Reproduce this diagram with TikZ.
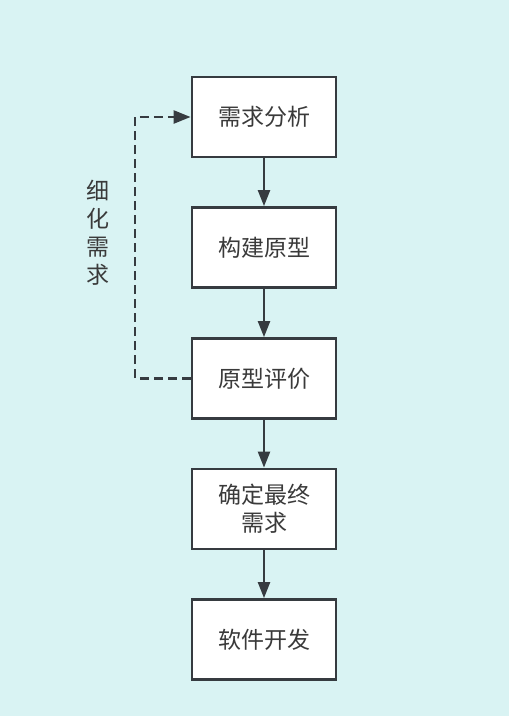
\documentclass[tikz,border=0pt]{standalone}
\usepackage{fontspec}
\setmainfont{Noto Sans CJK SC}
\usetikzlibrary{arrows.meta}
\definecolor{bgc}{HTML}{D9F3F3}
\definecolor{linec}{HTML}{363B40}
\definecolor{textc}{HTML}{3A3A3A}
\tikzset{
  stepbox/.style={draw=linec, fill=white, line width=2.8pt, minimum width=144pt, minimum height=80pt, inner sep=0pt, align=center, text=textc, font=\fontsize{23}{28}\selectfont},
  flow/.style={draw=linec, line width=2.4pt, -{Triangle[length=16pt,width=12pt]}},
  back/.style={draw=linec, line width=2.5pt, dash pattern=on 9pt off 5pt, -{Triangle[length=17pt,width=13pt]}},
  lbl/.style={text=textc, align=center, font=\fontsize{23}{28}\selectfont, inner sep=0pt}
}
\begin{document}
\begin{tikzpicture}[x=1pt,y=-1pt]
\path[fill=bgc] (0,0) rectangle (509,716);
\node[stepbox] (a) at (264,117) {需求分析};
\node[stepbox] (b) at (264,247.5) {构建原型};
\node[stepbox] (c) at (264,378.5) {原型评价};
\node[stepbox] (d) at (264,509) {确定最终\\需求};
\node[stepbox] (e) at (264,639.5) {软件开发};
\draw[flow] (a) -- (b);
\draw[flow] (b) -- (c);
\draw[flow] (c) -- (d);
\draw[flow] (d) -- (e);
\coordinate (k1) at (135,378.5);
\coordinate (k2) at (135,117);
\draw[back] (c.west) -- (k1) -- (k2) -- (a.west);
\node[lbl] (t) at (98,233) {细\\化\\需\\求};
\end{tikzpicture}
\end{document}
